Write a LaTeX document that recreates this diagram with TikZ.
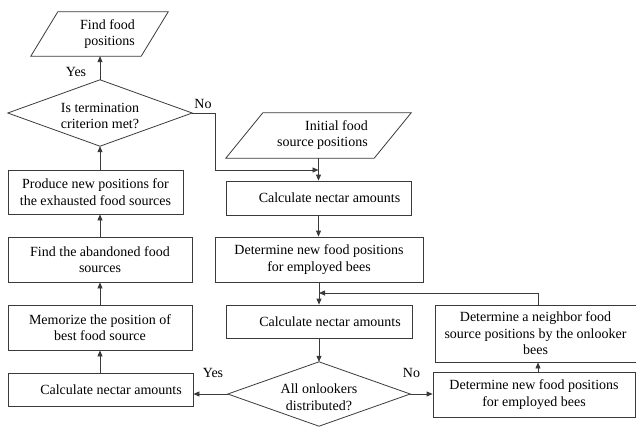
\documentclass[tikz,border=0pt]{standalone}
\usepackage{fontspec}
\setmainfont{Liberation Serif}
\usetikzlibrary{arrows.meta,calc}
\definecolor{lc}{HTML}{3A3A3A}
\begin{document}
\begin{tikzpicture}[x=1pt,y=-1pt,
  every node/.style={font=\fontsize{14}{16.5}\selectfont, text=black},
  box/.style={draw=lc, line width=0.8pt, inner sep=0pt, align=center},
  ghost/.style={inner sep=0pt},
  arr/.style={draw=lc, line width=0.8pt, -{Triangle[length=6pt,width=5pt]}},
  ln/.style={draw=lc, line width=0.8pt},
  lbl/.style={inner sep=0pt}]
\useasboundingbox (0,0) rectangle (636,426);

% parallelograms and diamonds (shape nodes)
\node[ghost, minimum width=137pt, minimum height=44pt] (find) at (99.5,34) {};
\draw[ln] (find.south west) -- ($(find.north west)+(27,0)$) -- (find.north east) -- ($(find.south east)+(-27,0)$) -- cycle;
\node[lbl, align=right] (findtxt) at (107.5,34) {Find food\\positions};

\node[ghost, minimum width=185pt, minimum height=45pt] (init) at (318.5,135.5) {};
\draw[ln] (init.south west) -- ($(init.north west)+(37,0)$) -- (init.north east) -- ($(init.south east)+(-37,0)$) -- cycle;
\node[lbl, align=right] (inittxt) at (322.5,135) {Initial food\\source positions};

\node[ghost, minimum width=184pt, minimum height=66pt] (term) at (100,113) {};
\draw[ln] (term.west) -- (term.north) -- (term.east) -- (term.south) -- cycle;
\node[lbl, align=center] (termtxt) at (100,116) {Is termination\\criterion met?};

\node[ghost, minimum width=182pt, minimum height=64pt] (onl) at (319,394) {};
\draw[ln] (onl.west) -- (onl.north) -- (onl.east) -- (onl.south) -- cycle;
\node[lbl, align=center] (onltxt) at (319,397) {All onlookers\\distributed?};

% boxes
\node[box, minimum width=175pt, minimum height=44pt] (prod) at (95.5,192) {Produce new positions for\\the exhausted food sources};
\node[box, minimum width=184pt, minimum height=45pt] (aband) at (100,259.5) {Find the abandoned food\\sources};
\node[box, minimum width=184pt, minimum height=45pt] (memo) at (100,327.5) {Memorize the position of\\best food source};
\node[box, minimum width=185pt, minimum height=33pt] (calcL) at (100.5,389.5) {\hspace*{21pt}Calculate nectar amounts};

\node[box, minimum width=185pt, minimum height=34pt] (calc1) at (318.5,198) {\hspace*{22pt}Calculate nectar amounts};
\node[box, minimum width=208pt, minimum height=45pt] (det1) at (319,259.5) {Determine new food positions\\for employed bees};
\node[box, minimum width=186pt, minimum height=33pt] (calc2) at (319,321.5) {\hspace*{22pt}Calculate nectar amounts};
\node[box, minimum width=202pt, minimum height=45pt] (det2) at (534,394.5) {Determine new food positions\\for employed bees};
\node[box, minimum width=201pt, minimum height=57pt] (neigh) at (535.5,333.5) {Determine a neighbor food\\source positions by the onlooker\\bees};

% helper coordinates
\coordinate (c2) at (215,170);
\coordinate (j1) at (318.5,170);
\coordinate (j2) at (319,293);
\coordinate (fb) at (538,293);

% connectors
\draw[arr] (term.north) -- (term.north |- find.south);
\draw[arr] (term.east) -| (c2) -- (j1);
\draw[arr] (init.south) -- (calc1.north);
\draw[arr] (calc1.south) -- (calc1.south |- det1.north);
\draw[arr] (det1.south) -- (calc2.north);
\draw[arr] (fb |- neigh.north) -- (fb) -- (j2);
\draw[arr] (calc2.south) -- (onl.north);
\draw[arr] (onl.west) -- (onl.west -| calcL.east);
\draw[arr] (onl.east) -- (onl.east -| det2.west);
\draw[arr] (fb |- det2.north) -- (fb |- neigh.south);
\draw[arr] (calcL.north -| term.south) -- (memo.south -| term.south);
\draw[arr] (memo.north -| term.south) -- (aband.south -| term.south);
\draw[arr] (aband.north -| term.south) -- (prod.south -| term.south);
\draw[arr] (prod.north -| term.south) -- (term.south);

% labels
\node[lbl] (yes1) at (76,72) {Yes};
\node[lbl] (no1) at (203,104) {No};
\node[lbl] (yes2) at (213,373) {Yes};
\node[lbl] (no2) at (411.5,373) {No};
\end{tikzpicture}
\end{document}
